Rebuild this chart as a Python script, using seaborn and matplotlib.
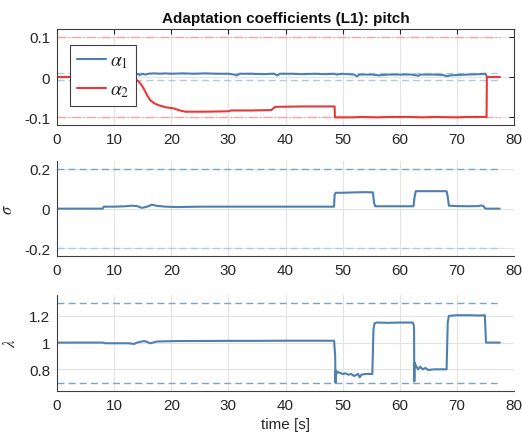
import matplotlib
matplotlib.use("Agg")
import matplotlib.pyplot as plt
import seaborn as sns
import pandas as pd

# ---------------- data ----------------
a1_t = [0, 8, 8.3, 9, 9.6, 10.2, 10.8, 11.4, 12, 12.5, 13, 13.5, 14, 14.5, 15, 15.5, 16, 17, 18, 19,
        20, 22, 24, 26, 28, 30, 31, 31.5, 32, 34, 36, 38, 38.6, 39, 41, 43, 45, 47, 48.5, 49,
        50, 51, 52, 52.5, 53, 55, 56.5, 57, 58, 60, 62, 63.3, 63.6, 64, 66, 67.5, 68.3, 68.8, 70, 72,
        74, 75, 75.3, 77.5]
a1_v = [0, 0, 0.008, 0.006, 0.009, 0.005, 0.008, 0.004, 0.008, 0.006, 0.009, 0.004, 0.008, 0.005, 0.008, 0.006, 0.008, 0.009, 0.008, 0.009,
        0.008, 0.009, 0.008, 0.009, 0.008, 0.008, 0.006, 0.004, 0.008, 0.008, 0.007, 0.008, 0.004, 0.008, 0.008, 0.007, 0.008, 0.007, 0.008, 0.006,
        0.008, 0.007, 0.006, 0.002, 0.006, 0.006, 0.004, 0.005, 0.006, 0.006, 0.006, 0.003, 0.006, 0.006, 0.006, 0.005, 0.002, 0.004, 0.005, 0.006,
        0.007, 0.008, 0, 0]

a2_t = [0, 13.0, 13.6, 14.2, 14.8, 15.3, 15.8, 16.3, 17.0, 17.8, 19.0, 20.5, 21.5, 22.5, 26, 30, 30.5, 34,
        37.5, 38.2, 43, 48.6, 48.65, 52, 53, 56, 58, 62, 64, 66, 70, 72, 75.2, 75.25, 77.5]
a2_v = [0, 0, -0.004, -0.010, -0.020, -0.032, -0.046, -0.057, -0.065, -0.070, -0.075, -0.078, -0.083, -0.086,
        -0.086, -0.085, -0.083, -0.083, -0.082, -0.074, -0.073, -0.073, -0.1, -0.1, -0.099, -0.1, -0.099, -0.099,
        -0.1, -0.099, -0.1, -0.099, -0.099, 0, 0]

sig_t = [0, 8, 8.2, 10, 12, 13, 14, 14.8, 15.2, 16, 16.6, 17.5, 19, 21, 25, 30, 35, 40, 45, 48.5,
         48.6, 48.8, 50, 52, 54, 55.3, 55.5, 55.7, 58, 60, 62.4, 62.6, 62.8, 65, 68.2, 68.4, 68.6, 70, 72, 73.8,
         74.2, 74.6, 75, 77.5]
sig_v = [0, 0, 0.01, 0.01, 0.012, 0.015, 0.013, 0.004, 0.006, 0.012, 0.02, 0.014, 0.01, 0.008, 0.01, 0.01, 0.01, 0.01, 0.01, 0.01,
         0.07, 0.08, 0.08, 0.082, 0.083, 0.082, 0.03, 0.012, 0.012, 0.012, 0.012, 0.06, 0.088, 0.088, 0.088, 0.06, 0.015, 0.013, 0.012, 0.013,
         0.016, 0.014, 0.0, 0.0]

lam_t = [0, 8, 8.5, 12.5, 13.5, 14, 15, 15.5, 16.3, 16.8, 17.5, 19, 22, 25, 30, 35, 40, 45, 48.5, 48.7,
         48.75, 48.8, 49.0, 49.2, 50, 50.5, 51, 51.5, 52, 52.7, 53, 53.3, 54, 55.2, 55.4, 55.6, 56, 58, 60, 62.3,
         62.5, 62.55, 62.6, 62.8, 63.2, 63.6, 64, 64.5, 65, 66, 67, 68.2, 68.4, 68.6, 70, 72, 74, 74.9, 75.1, 77.5]
lam_v = [1, 1, 0.995, 0.995, 0.99, 1.0, 1.01, 1.01, 0.995, 1.0, 1.008, 1.01, 1.012, 1.012, 1.013, 1.013, 1.014, 1.014, 1.014, 0.9,
         0.70, 0.79, 0.77, 0.78, 0.765, 0.77, 0.76, 0.765, 0.75, 0.765, 0.74, 0.76, 0.765, 0.765, 1.1, 1.145, 1.15, 1.148, 1.15, 1.15,
         1.12, 0.71, 0.85, 0.83, 0.80, 0.82, 0.80, 0.81, 0.795, 0.80, 0.80, 0.80, 1.15, 1.2, 1.205, 1.205, 1.203, 1.205, 1.0, 1.0]

bound_t = [0, 77.5]
a1_bounds = [0.01, -0.008]
a2_bounds = [0.1, -0.1]
sig_bounds = [0.2, -0.2]
lam_bounds = [1.3, 0.7]

xticks = [0, 10, 20, 30, 40, 50, 60, 70, 80]
title = "Adaptation coefficients (L1): pitch"

assert len(a1_t) == len(a1_v) and len(a2_t) == len(a2_v)
assert len(sig_t) == len(sig_v) and len(lam_t) == len(lam_v)

# ---------------- style ----------------
sns.set_theme(style="white")
plt.rcParams["font.family"] = ["Liberation Sans", "DejaVu Sans"]
plt.rcParams["mathtext.fontset"] = "stix"

BLUE = "#4d7fb3"
RED = "#e8393a"
DBLUE = "#7aa3cc"
LBLUE = "#b0c9e2"
LRED = "#f5a3a3"
TXT = "#262626"

fig = plt.figure(figsize=(5.22, 4.39), dpi=100)
W, H = 522, 439
def axpos(l, r, t, b):
    return [l / W, 1 - b / H, (r - l) / W, (b - t) / H]

ax1 = fig.add_axes(axpos(57, 514, 29.6, 126.4))
ax2 = fig.add_axes(axpos(57, 514, 162, 257.3))
ax3 = fig.add_axes(axpos(57, 514, 295.5, 391.7))

def line(ax, t, v, color, lw=1.5, ls="-", label=None):
    df = pd.DataFrame({"t": t, "v": v})
    sns.lineplot(data=df, x="t", y="v", ax=ax, color=color, lw=lw, ls=ls,
                 estimator=None, sort=False, label=label, legend=False)

# panel 1
for b in a2_bounds:
    line(ax1, bound_t, [b, b], LRED, lw=1.0, ls="-.")
for b in a1_bounds:
    line(ax1, bound_t, [b, b], LBLUE, lw=1.0, ls=(0, (5, 3)))
line(ax1, a1_t, a1_v, BLUE, label=r"$\alpha_1$")
line(ax1, a2_t, a2_v, RED, label=r"$\alpha_2$")
ax1.set_ylim(-0.12, 0.12)
ax1.set_yticks([-0.1, 0, 0.1])
ax1.set_yticklabels(["-0.1", "0", "0.1"])

# panel 2
line(ax2, bound_t, [sig_bounds[0]] * 2, DBLUE, lw=1.0, ls=(0, (5, 3)))
line(ax2, bound_t, [sig_bounds[1]] * 2, LBLUE, lw=1.0, ls=(0, (5, 3)))
line(ax2, sig_t, sig_v, BLUE)
ax2.set_ylim(-0.24, 0.24)
ax2.set_yticks([-0.2, 0, 0.2])
ax2.set_yticklabels(["-0.2", "0", "0.2"])

# panel 3
for b in lam_bounds:
    line(ax3, bound_t, [b, b], DBLUE, lw=1.0, ls=(0, (5, 3)))
line(ax3, lam_t, lam_v, BLUE)
ax3.set_ylim(0.64, 1.36)
ax3.set_yticks([0.8, 1, 1.2])
ax3.set_yticklabels(["0.8", "1", "1.2"])

for ax in (ax1, ax2, ax3):
    ax.set_xlim(0, 80)
    ax.set_xticks(xticks)
    ax.set_xticklabels([str(x) for x in xticks])
    ax.grid(True, color="#e3e3e3", lw=0.8)
    ax.set_axisbelow(True)
    ax.tick_params(direction="in", length=3.5, width=0.8, color=TXT,
                   labelsize=11, labelcolor=TXT, pad=5)
    for s in ("left", "bottom"):
        ax.spines[s].set_color("#404040")
        ax.spines[s].set_linewidth(0.8)
    ax.set_xlabel("")
    ax.set_ylabel("")
    ax.set_facecolor("white")

for s in ("top", "right"):
    ax1.spines[s].set_visible(True)
    ax1.spines[s].set_color("#404040")
    ax1.spines[s].set_linewidth(0.8)
ax1.tick_params(top=True, right=True)
for ax in (ax2, ax3):
    ax.spines["top"].set_visible(False)
    ax.spines["right"].set_visible(False)

ax1.set_title(title, fontsize=11, fontweight="bold", color="#111111", pad=5)
ax2.set_ylabel(r"$\sigma$", fontsize=12, color=TXT)
ax2.yaxis.set_label_coords(-0.092, 0.5)
ax3.set_ylabel(r"$\lambda$", fontsize=12, color=TXT)
ax3.yaxis.set_label_coords(-0.085, 0.5)
ax3.set_xlabel("time [s]", fontsize=11, color=TXT, labelpad=4)

handles = ax1.get_lines()[-2:]
leg = ax1.legend(handles=handles, labels=[r"$\alpha_1$", r"$\alpha_2$"],
                 loc="upper left", bbox_to_anchor=(0.0284, 0.8306), borderaxespad=0,
                 fontsize=14, handlelength=1.5, handletextpad=0.2, labelspacing=0.55,
                 borderpad=0.35, fancybox=False, framealpha=1, edgecolor="#404040")
leg.get_frame().set_linewidth(0.8)

fig.savefig("out.png", dpi=100)
